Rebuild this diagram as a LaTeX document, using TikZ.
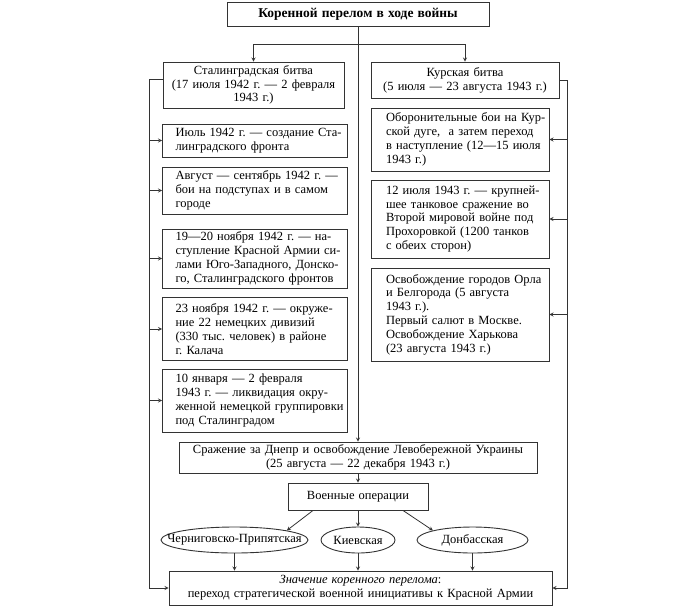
\documentclass[tikz,border=0pt]{standalone}
\usepackage{fontspec}
\setmainfont{Liberation Serif}
\usetikzlibrary{shapes.geometric}
\frenchspacing
\newlength{\du}
\setlength{\du}{1pt}
\definecolor{dialinecolor}{rgb}{0.200000, 0.200000, 0.200000}
\tikzset{
  cardc/.style 2 args={draw=dialinecolor, line width=0.9\du, text width=#1\du-8\du, minimum height=#2\du,
    inner xsep=4\du, inner ysep=0\du, align=center, font=\fontsize{12.5}{13.8}\selectfont},
  card/.style n args={3}{cardc={#1}{#2}, align=left,
    execute at begin node={\leftskip=#3\du \rightskip=-#3\du plus 1fil}},
  oval/.style 2 args={draw=dialinecolor, line width=0.9\du, ellipse, inner sep=0\du,
    minimum width=#1\du, minimum height=#2\du, font=\fontsize{12.5}{13.8}\selectfont},
  rail/.style={draw=dialinecolor, line width=0.8\du},
  link/.style={rail, -stealth}
}
\begin{document}
\begin{tikzpicture}
\pgftransformxscale{1.000000}
\pgftransformyscale{-1.000000}
\useasboundingbox (0\du,0\du) rectangle (700\du,608\du);
% boxes
\node[cardc={262}{24}] (title) at (358\du,14\du){\fontsize{13.5}{14}\selectfont\bfseries Коренной перелом в ходе войны};
\node[cardc={181}{46}] (stal) at (253.5\du,85\du){Сталинградская битва\\(17 июля 1942 г. — 2 февраля\\1943 г.)};
\node[cardc={188}{36}] (kursk) at (465\du,80\du){Курская битва\\(5 июля — 23 августа 1943 г.)};
% setfont left to latex
\node[card={185}{33}{9}] (stal1) at (255\du,140.5\du){Июль 1942 г. — создание Ста-\\линградского фронта};
\node[card={185}{47}{9}] (stal2) at (255\du,190.5\du){Август — сентябрь 1942 г. —\\бои на подступах и в самом\\городе};
\node[card={185}{59}{9}] (stal3) at (255\du,258.5\du){19—20 ноября 1942 г. — на-\\ступление Красной Армии си-\\лами Юго-Западного, Донско-\\го, Сталинградского фронтов};
\node[card={185}{63}{9}] (stal4) at (255\du,329\du){23 ноября 1942 г. — окруже-\\ние 22 немецких дивизий\\(330 тыс. человек) в районе\\г. Калача};
\node[card={185}{63}{9}] (stal5) at (255\du,400.5\du){10 января — 2 февраля\\1943 г. — ликвидация окру-\\женной немецкой группировки\\под Сталинградом};
% setfont left to latex
\node[card={178}{63}{11}] (kursk1) at (460\du,139.5\du){Оборонительные бои на Кур-\\ской дуге, \ а затем переход\\в наступление (12—15 июля\\1943 г.)};
\node[card={178}{78}{11}] (kursk2) at (460\du,219\du){12 июля 1943 г. — крупней-\\шее танковое сражение во\\Второй мировой войне под\\Прохоровкой (1200 танков\\с обеих сторон)};
\node[card={178}{93}{11}] (kursk3) at (460\du,314.5\du){Освобождение городов Орла\\и Белгорода (5 августа\\1943 г.).\\Первый салют в Москве.\\Освобождение Харькова\\(23 августа 1943 г.)};
% setfont left to latex
\node[cardc={358}{31}] (dnepr) at (358\du,457.5\du){Сражение за Днепр и освобождение Левобережной Украины\\(25 августа — 22 декабря 1943 г.)};
\node[cardc={140}{27}] (ops) at (358\du,496.5\du){Военные операции};
\node[oval={147}{26}] (cher) at (234.5\du,540\du){\makebox[0pt]{Черниговско-Припятская}};
\node[oval={74}{26}] (kiev) at (358\du,540\du){\makebox[0pt]{Киевская}};
\node[oval={111}{26}] (donb) at (472.5\du,540\du){\makebox[0pt]{Донбасская}};
\node[cardc={383}{34}] (result) at (360.5\du,588\du){\textit{Значение коренного перелома}:\\переход стратегической военной инициативы к Красной Армии};
% connectors
\coordinate (fork) at (358\du,44\du);
\coordinate (lrail) at (149\du,79\du);
\coordinate (rrail) at (567\du,80\du);
\draw[link] (title.south) -- (title.south |- dnepr.north);
\draw[rail] (stal.north |- fork) -- (kursk.north |- fork);
\draw[link] (stal.north |- fork) -- (stal.north);
\draw[link] (kursk.north |- fork) -- (kursk.north);
\draw[link] (stal.west |- lrail) -- (lrail) |- (result.west);
\draw[link] (kursk.east) -- (rrail |- kursk.east) |- (result.east);
\foreach \n in {stal1,stal2,stal3,stal4,stal5}
  \draw[link] (lrail |- \n.west) -- (\n.west);
\foreach \n in {kursk1,kursk2,kursk3}
  \draw[link] (rrail |- \n.east) -- (\n.east);
\draw[link] (dnepr.south) -- (ops.north);
\draw[link] ([xshift=-45\du]ops.south) -- (cher.north east);
\draw[link] (ops.south) -- (kiev.north);
\draw[link] ([xshift=45\du]ops.south) -- (donb.north west);
\foreach \n in {cher,kiev,donb}
  \draw[link] (\n.south) -- (\n.south |- result.north);
\end{tikzpicture}
\end{document}
